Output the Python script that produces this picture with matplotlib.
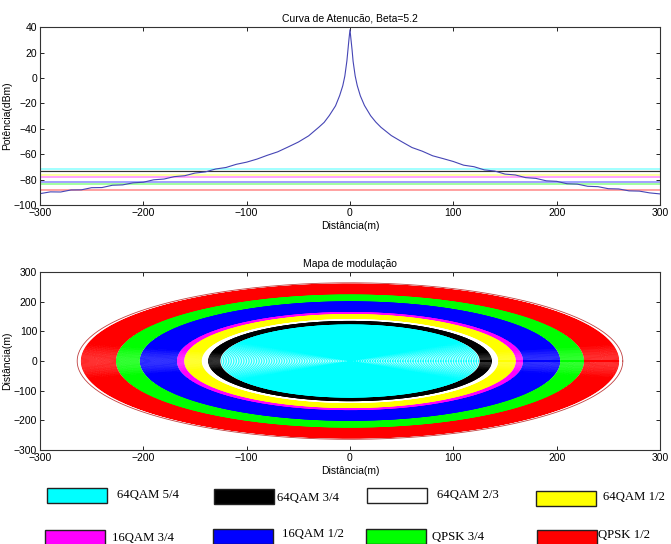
import numpy as np
import matplotlib
matplotlib.use("Agg")
import matplotlib.pyplot as plt
from matplotlib.patches import Rectangle

# curva de atenuacao
dist_dir = [0, 1, 2, 3, 5, 7, 10, 14, 20, 25, 30, 40, 50, 60, 70, 80, 90,
            100, 110, 120, 130, 140, 150, 160, 170, 180, 190, 200, 210, 220,
            230, 240, 250, 260, 270, 280, 290, 300]
pot_dir = [38.0, 30.0, 22.3, 13.2, 1.7, -5.9, -14.0, -21.6, -29.7, -34.7, -38.8,
           -45.3, -50.1, -54.7, -57.6, -61.2, -63.4,
           -65.7, -68.6, -69.8, -72.3, -73.2, -75.6, -76.3, -78.4, -79.0, -80.9,
           -81.3, -83.2, -83.5, -85.2, -85.5, -87.1, -87.3, -88.8, -89.0, -90.4, -91.2]
dist_esq = [-1, -2, -3, -5, -7, -10, -14, -20, -25, -30, -40, -50, -60, -70, -80, -90,
            -100, -110, -120, -130, -140, -150, -160, -170, -180, -190, -200, -210,
            -220, -230, -240, -250, -260, -270, -280, -290, -300]
pot_esq = [30.5, 22.0, 13.5, 1.5, -6.1, -13.8, -21.9, -29.5, -34.9, -38.6,
           -45.5, -50.4, -54.3, -58.1, -60.8, -63.8,
           -66.2, -67.9, -70.4, -71.6, -73.9, -74.8, -76.9, -77.6, -79.5, -80.1,
           -82.0, -82.5, -84.1, -84.4, -86.2, -86.3, -88.0, -88.1, -89.7, -89.6, -91.0]

modulacoes = ["64QAM 5/4", "64QAM 3/4", "64QAM 2/3", "64QAM 1/2",
              "16QAM 3/4", "16QAM 1/2", "QPSK 3/4", "QPSK 1/2"]
cores = ["#00ffff", "#000000", "#ffffff", "#ffff00",
         "#ff00ff", "#0000ff", "#00ff00", "#ff0000"]
limiar_pot = [-71.3, -73.4, -74.7, -76.0, -77.9, -81.8, -83.6, -88.3]
raio_int = [0, 125, 137, 143, 160, 167, 203, 226]
raio_ext = [125, 137, 143, 160, 167, 203, 226, 260]
raio_borda = 264

fam = ["Liberation Sans Narrow", "Liberation Sans", "DejaVu Sans"]
plt.rcParams["font.family"] = fam
plt.rcParams["font.size"] = 7

fig = plt.figure(figsize=(6.71, 5.44), dpi=100)
fig.patch.set_facecolor("white")

def estilo(ax):
    ax.tick_params(direction="in", top=True, right=True, length=3, width=0.6,
                   labelsize=7.5, pad=2)
    for s in ax.spines.values():
        s.set_color("#333333")
        s.set_linewidth(0.8)

# ---- grafico de cima
ax1 = fig.add_axes([0.0596, 0.623, 0.924, 0.327])
for p, c in zip(limiar_pot, cores):
    if c == "#000000":
        ax1.axhline(p, color="#333333", lw=0.9)
    else:
        ax1.axhline(p, color=c, lw=1.3, alpha=0.4)
x = list(reversed(dist_esq)) + dist_dir
y = list(reversed(pot_esq)) + pot_dir
ax1.plot(x, y, color="#4545b5", lw=0.8)
ax1.set_xlim(-300, 300)
ax1.set_ylim(-100, 40)
ax1.set_xticks(range(-300, 301, 100))
ax1.set_yticks(range(-100, 41, 20))
ax1.set_title("Curva de Atenucão, Beta=5.2", fontsize=7.5, pad=4)
ax1.set_xlabel("Distância(m)", fontsize=7.5, labelpad=2)
ax1.set_ylabel("Potência(dBm)", fontsize=7.5, labelpad=1)
estilo(ax1)

# ---- mapa de modulacao
ax2 = fig.add_axes([0.0596, 0.1728, 0.924, 0.327])
t = np.linspace(0, 2 * np.pi, 300)
for ri, re, c in zip(raio_int, raio_ext, cores):
    xs, ys = [], []
    passo = 1.6 if c == "#00ffff" else 1.0
    for r in np.arange(ri + 1, re + 0.5, passo):
        xs.extend(list(r * np.cos(t)) + [np.nan])
        ys.extend(list(r * np.sin(t)) + [np.nan])
    ax2.plot(xs, ys, color=c, lw=0.6)
ax2.plot(raio_borda * np.cos(t), raio_borda * np.sin(t), color="#c04040", lw=0.6)
ax2.set_xlim(-300, 300)
ax2.set_ylim(-300, 300)
ax2.set_xticks(range(-300, 301, 100))
ax2.set_yticks(range(-300, 301, 100))
ax2.set_title("Mapa de modulação", fontsize=7.5, pad=4)
ax2.set_xlabel("Distância(m)", fontsize=7.5, labelpad=2)
ax2.set_ylabel("Distância(m)", fontsize=7.5, labelpad=1)
estilo(ax2)

# ---- legenda (caixas)
W, H = 671.0, 544.0
caixas_x = [47, 214, 367, 536, 45, 213, 366, 537]
caixas_y = [488, 489, 488, 491, 530, 529, 529, 530]
texto_x = [117, 277, 437, 603, 112, 282, 432, 598]
texto_y = [495, 498, 495, 497, 538, 534, 537, 535]
for i in range(8):
    fig.patches.append(Rectangle((caixas_x[i] / W, 1 - (caixas_y[i] + 15) / H),
                                 60 / W, 15 / H, transform=fig.transFigure,
                                 facecolor=cores[i], edgecolor="#222222", lw=1.0))
    fig.text(texto_x[i] / W, 1 - texto_y[i] / H, modulacoes[i], ha="left",
             va="center", fontsize=9.2, family=["Liberation Serif", "DejaVu Serif"])

fig.savefig("out.png", dpi=100, facecolor="white")
